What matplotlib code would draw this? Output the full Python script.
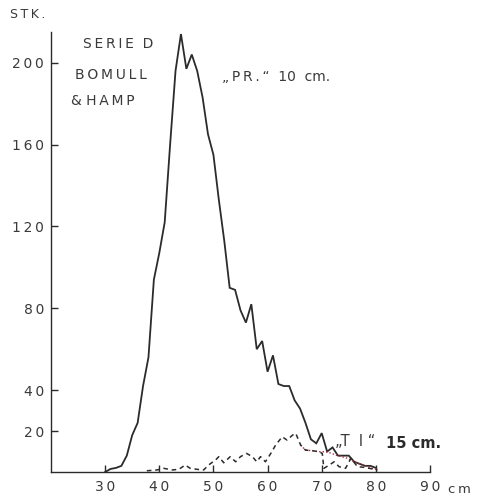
import matplotlib
matplotlib.use("Agg")
import matplotlib.pyplot as plt

# "PR." 10 cm series (solid)
pr_x = [30, 31, 32, 33, 34, 35, 36, 37, 38, 39, 40, 41, 42, 43, 44, 45, 46, 47, 48, 49,
        50, 51, 52, 53, 54, 55, 56, 57, 58, 59, 60, 61, 62, 63, 64, 65, 66, 67, 68, 69,
        70, 71, 72, 73, 74, 75, 76, 77, 78, 79, 80]
pr_y = [0, 1.5, 2, 3, 8, 18, 24, 42, 56, 94, 107, 122, 160, 196, 214, 197, 204, 196, 183, 165,
        155, 133, 113, 90, 89, 79, 73, 82, 60, 64, 49, 57, 43, 42, 42, 35, 31, 24, 16, 14,
        19, 10, 12, 8, 8, 8, 5, 4, 3, 3, 2]

# "TI" 15 cm series (dashed)
ti_x = [37.7, 39.6, 40.8, 42.4, 43.6, 44.8, 45.7, 47.0, 48.2, 49.1, 50.4, 51.0, 51.9, 53.1,
        54.1, 55.0, 56.1, 57.2, 58.0, 58.7, 59.6, 60.6, 61.5, 62.7, 63.6, 64.6, 65.2, 66.1,
        67.0, 68.3, 69.5, 70.1, 70.4, 71.4, 72.3, 73.2, 74.4, 75.4, 76.6, 77.8, 80.3]
ti_y = [0.6, 1, 1.8, 1, 1.3, 3.4, 1.8, 1.3, 1, 3.4, 5.9, 7.5, 4.5, 7.5,
        5, 7.5, 9.1, 7.5, 5, 7.5, 5, 9.1, 13.2, 17.2, 15.6, 18, 18.9, 13.2,
        10.7, 10.4, 9.9, 9.1, 1.8, 3.4, 5, 2.6, 1.8, 6.7, 2.6, 2.3, 1]

# red dotted continuation
red_x = [66.1, 67.0, 68.3, 69.5, 71.0, 72.6, 74.8, 76.0, 77.5, 80.3]
red_y = [13.2, 10.7, 10.4, 9.9, 9.9, 8.3, 6.7, 5.0, 3.4, 1.0]

x_ticks = [30, 40, 50, 60, 70, 80, 90]
y_ticks = [20, 40, 80, 120, 160, 200]

ink = "#2b2b2b"
txt = "#3a3a3a"
TS = "\u2009"  # thin space for letter spacing


def spaced(s):
    return TS.join(s)


fig = plt.figure(figsize=(4.79, 4.98), dpi=100)
ax = fig.add_axes([51/479, 26/498, (430-51)/479, (472-32)/498])
ax.set_xlim(20, 90)
ax.set_ylim(0, 215)

ax.plot(pr_x, pr_y, color=ink, lw=1.3, solid_joinstyle="miter")
ax.plot(red_x, red_y, color="#b03040", lw=1.0, ls=(0, (1, 1.5)))
ax.plot(ti_x, ti_y, color=ink, lw=1.1, ls=(0, (3, 2.5)))

for s in ["top", "right"]:
    ax.spines[s].set_visible(False)
for s in ["left", "bottom"]:
    ax.spines[s].set_color(ink)
    ax.spines[s].set_linewidth(1.0)

ax.set_xticks(x_ticks)
ax.set_yticks(y_ticks)
ax.set_xticklabels([spaced(str(v)) for v in x_ticks])
ax.set_yticklabels([spaced(str(v)) for v in y_ticks])
ax.tick_params(direction="in", length=5, width=1.0, color=ink, labelcolor=txt,
               labelsize=10)
ax.tick_params(axis="x", pad=6)
ax.tick_params(axis="y", pad=5)

fig.text(459/479, 1 - 489/498, spaced("cm"), fontsize=9.5, color=txt, ha="center", va="center")
fig.text(10/479, 1 - 15/498, spaced("STK."), fontsize=9, color=txt, ha="left", va="center")
fig.text(118/479, 1 - 44/498, spaced("SERIE") + "  D", fontsize=10, color=txt, ha="center", va="center")
fig.text(111/479, 1 - 75/498, spaced("BOMULL"), fontsize=10, color=txt, ha="center", va="center")
fig.text(103/479, 1 - 101/498, "& " + spaced("HAMP"), fontsize=10, color=txt, ha="center", va="center")
fig.text(222/479, 1 - 77/498, spaced("„PR.“") + "  10  cm.", fontsize=10, color=txt,
         ha="left", va="center")
fig.text(335/479, 1 - 441/498, "„T  I “", fontsize=10.5, color=txt, ha="left", va="center")
fig.text(386/479, 1 - 443/498, "15 cm.", fontsize=10.5, color=ink, ha="left", va="center",
         fontweight="bold")

fig.savefig("out.png", dpi=100, facecolor="white")
